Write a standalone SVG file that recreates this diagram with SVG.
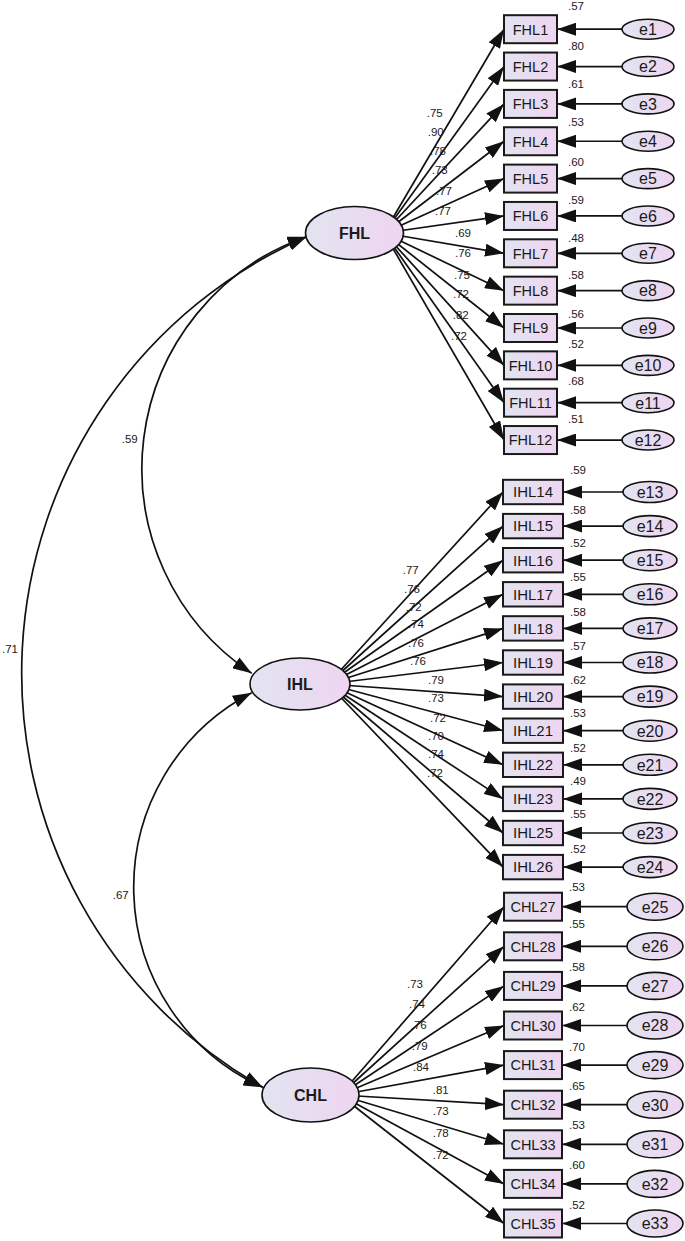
<svg xmlns="http://www.w3.org/2000/svg" width="685" height="1241" viewBox="0 0 685 1241">
<defs>
<linearGradient id="g" x1="0" y1="0" x2="1" y2="0">
<stop offset="0" stop-color="#e2e4f0"/>
<stop offset="1" stop-color="#eed5f1"/>
</linearGradient>
<marker id="ah" markerUnits="userSpaceOnUse" markerWidth="20" markerHeight="13" refX="19" refY="6.5" orient="auto-start-reverse">
<path d="M0,0 L19,6.5 L0,13 z" fill="#111"/>
</marker>
<style>
.c{fill:none;stroke:#111;stroke-width:1.7;marker-end:url(#ah)}
.cv{fill:none;stroke:#111;stroke-width:1.7;marker-start:url(#ah);marker-end:url(#ah)}
.bx{fill:url(#g);stroke:#1a1a1a;stroke-width:2}
.el{fill:url(#g);stroke:#111;stroke-width:1.6}
.t{font-family:"Liberation Sans",Arial,sans-serif;font-size:14.5px;fill:#1a1a1a;text-anchor:middle}
.ti{font-size:15px}
.lt{font-family:"Liberation Sans",Arial,sans-serif;font-size:16px;font-weight:bold;fill:#1a1a1a;text-anchor:middle}
.et{font-family:"Liberation Sans",Arial,sans-serif;font-size:16px;fill:#1a1a1a;text-anchor:middle}
.n{font-family:"Liberation Sans",Arial,sans-serif;font-size:11.5px;fill:#1a1a1a}
</style>
</defs>
<rect width="685" height="1241" fill="#fff"/>
<g id="connectors">
<path class="cv" d="M306.7,236.7 A245.6,245.6 0 0 0 251.7,673.3"/>
<path class="cv" d="M306.7,236.7 A476.5,476.5 0 0 0 262.7,1087.3"/>
<path class="cv" d="M251.7,692.7 A219.5,219.5 0 0 0 262.7,1087.3"/>
<line class="c" x1="384" y1="233" x2="504" y2="29.2"/>
<line class="c" x1="384" y1="233" x2="504" y2="66.55"/>
<line class="c" x1="384" y1="233" x2="504" y2="103.9"/>
<line class="c" x1="384" y1="233" x2="504" y2="141.25"/>
<line class="c" x1="384" y1="233" x2="504" y2="178.6"/>
<line class="c" x1="384" y1="233" x2="504" y2="215.95"/>
<line class="c" x1="384" y1="233" x2="504" y2="253.3"/>
<line class="c" x1="384" y1="233" x2="504" y2="290.65"/>
<line class="c" x1="384" y1="233" x2="504" y2="328"/>
<line class="c" x1="384" y1="233" x2="504" y2="365.35"/>
<line class="c" x1="384" y1="233" x2="504" y2="402.7"/>
<line class="c" x1="384" y1="233" x2="504" y2="440.05"/>
<line class="c" x1="328" y1="684" x2="503" y2="492"/>
<line class="c" x1="328" y1="684" x2="503" y2="526.1"/>
<line class="c" x1="328" y1="684" x2="503" y2="560.2"/>
<line class="c" x1="328" y1="684" x2="503" y2="594.3"/>
<line class="c" x1="328" y1="684" x2="503" y2="628.4"/>
<line class="c" x1="328" y1="684" x2="503" y2="662.5"/>
<line class="c" x1="328" y1="684" x2="503" y2="696.6"/>
<line class="c" x1="328" y1="684" x2="503" y2="730.7"/>
<line class="c" x1="328" y1="684" x2="503" y2="764.8"/>
<line class="c" x1="328" y1="684" x2="503" y2="798.9"/>
<line class="c" x1="328" y1="684" x2="503" y2="833"/>
<line class="c" x1="328" y1="684" x2="503" y2="867.1"/>
<line class="c" x1="340" y1="1095" x2="504" y2="906.7"/>
<line class="c" x1="340" y1="1095" x2="504" y2="946.3"/>
<line class="c" x1="340" y1="1095" x2="504" y2="985.9"/>
<line class="c" x1="340" y1="1095" x2="504" y2="1025.5"/>
<line class="c" x1="340" y1="1095" x2="504" y2="1065.1"/>
<line class="c" x1="340" y1="1095" x2="504" y2="1104.7"/>
<line class="c" x1="340" y1="1095" x2="504" y2="1144.3"/>
<line class="c" x1="340" y1="1095" x2="504" y2="1183.9"/>
<line class="c" x1="340" y1="1095" x2="504" y2="1223.5"/>
<line class="c" x1="622" y1="29.2" x2="557" y2="29.2"/>
<line class="c" x1="622" y1="66.55" x2="557" y2="66.55"/>
<line class="c" x1="622" y1="103.9" x2="557" y2="103.9"/>
<line class="c" x1="622" y1="141.25" x2="557" y2="141.25"/>
<line class="c" x1="622" y1="178.6" x2="557" y2="178.6"/>
<line class="c" x1="622" y1="215.95" x2="557" y2="215.95"/>
<line class="c" x1="622" y1="253.3" x2="557" y2="253.3"/>
<line class="c" x1="622" y1="290.65" x2="557" y2="290.65"/>
<line class="c" x1="622" y1="328" x2="557" y2="328"/>
<line class="c" x1="622" y1="365.35" x2="557" y2="365.35"/>
<line class="c" x1="622" y1="402.7" x2="557" y2="402.7"/>
<line class="c" x1="622" y1="440.05" x2="557" y2="440.05"/>
<line class="c" x1="623" y1="492" x2="563" y2="492"/>
<line class="c" x1="623" y1="526.1" x2="563" y2="526.1"/>
<line class="c" x1="623" y1="560.2" x2="563" y2="560.2"/>
<line class="c" x1="623" y1="594.3" x2="563" y2="594.3"/>
<line class="c" x1="623" y1="628.4" x2="563" y2="628.4"/>
<line class="c" x1="623" y1="662.5" x2="563" y2="662.5"/>
<line class="c" x1="623" y1="696.6" x2="563" y2="696.6"/>
<line class="c" x1="623" y1="730.7" x2="563" y2="730.7"/>
<line class="c" x1="623" y1="764.8" x2="563" y2="764.8"/>
<line class="c" x1="623" y1="798.9" x2="563" y2="798.9"/>
<line class="c" x1="623" y1="833" x2="563" y2="833"/>
<line class="c" x1="623" y1="867.1" x2="563" y2="867.1"/>
<line class="c" x1="627" y1="906.7" x2="562" y2="906.7"/>
<line class="c" x1="627" y1="946.3" x2="562" y2="946.3"/>
<line class="c" x1="627" y1="985.9" x2="562" y2="985.9"/>
<line class="c" x1="627" y1="1025.5" x2="562" y2="1025.5"/>
<line class="c" x1="627" y1="1065.1" x2="562" y2="1065.1"/>
<line class="c" x1="627" y1="1104.7" x2="562" y2="1104.7"/>
<line class="c" x1="627" y1="1144.3" x2="562" y2="1144.3"/>
<line class="c" x1="627" y1="1183.9" x2="562" y2="1183.9"/>
<line class="c" x1="627" y1="1223.5" x2="562" y2="1223.5"/>
</g>
<g id="labels">
<text class="n" x="121.7" y="442.7">.59</text>
<text class="n" x="2" y="653.3">.71</text>
<text class="n" x="112.7" y="899">.67</text>
<text class="n" x="426.7" y="116.7">.75</text>
<text class="n" x="427.7" y="135.7">.90</text>
<text class="n" x="430" y="155">.78</text>
<text class="n" x="431.7" y="174">.73</text>
<text class="n" x="436" y="195">.77</text>
<text class="n" x="435" y="215">.77</text>
<text class="n" x="455" y="236.7">.69</text>
<text class="n" x="455" y="256.7">.76</text>
<text class="n" x="454" y="279">.75</text>
<text class="n" x="453" y="298">.72</text>
<text class="n" x="452.7" y="319">.82</text>
<text class="n" x="451" y="340">.72</text>
<text class="n" x="402.7" y="574">.77</text>
<text class="n" x="404" y="592.7">.76</text>
<text class="n" x="405.7" y="610.7">.72</text>
<text class="n" x="408" y="628">.74</text>
<text class="n" x="408" y="646.7">.76</text>
<text class="n" x="410" y="665">.76</text>
<text class="n" x="428" y="684">.79</text>
<text class="n" x="428" y="702">.73</text>
<text class="n" x="430" y="721.7">.72</text>
<text class="n" x="428" y="740">.70</text>
<text class="n" x="428" y="758">.74</text>
<text class="n" x="427" y="777">.72</text>
<text class="n" x="407" y="987.7">.73</text>
<text class="n" x="409" y="1008">.74</text>
<text class="n" x="410.7" y="1029">.76</text>
<text class="n" x="411.7" y="1050">.79</text>
<text class="n" x="413" y="1071">.84</text>
<text class="n" x="432.7" y="1094">.81</text>
<text class="n" x="432.7" y="1115">.73</text>
<text class="n" x="432.7" y="1136.7">.78</text>
<text class="n" x="432.7" y="1159">.72</text>
<text class="n" x="568" y="10">.57</text>
<text class="n" x="568" y="50">.80</text>
<text class="n" x="568" y="88.3">.61</text>
<text class="n" x="568" y="126">.53</text>
<text class="n" x="568" y="165.7">.60</text>
<text class="n" x="568" y="204">.59</text>
<text class="n" x="568" y="242">.48</text>
<text class="n" x="568" y="279">.58</text>
<text class="n" x="568" y="318">.56</text>
<text class="n" x="568" y="348">.52</text>
<text class="n" x="568" y="385">.68</text>
<text class="n" x="568" y="423">.51</text>
<text class="n" x="570" y="474">.59</text>
<text class="n" x="570" y="514">.58</text>
<text class="n" x="570" y="546.7">.52</text>
<text class="n" x="570" y="580.7">.55</text>
<text class="n" x="570" y="615.7">.58</text>
<text class="n" x="570" y="650">.57</text>
<text class="n" x="570" y="684">.62</text>
<text class="n" x="570" y="717.3">.53</text>
<text class="n" x="570" y="751.7">.52</text>
<text class="n" x="570" y="785">.49</text>
<text class="n" x="570" y="818.3">.55</text>
<text class="n" x="570" y="852.7">.52</text>
<text class="n" x="569" y="890.7">.53</text>
<text class="n" x="569" y="928.3">.55</text>
<text class="n" x="569" y="970.7">.58</text>
<text class="n" x="569" y="1011">.62</text>
<text class="n" x="569" y="1050.7">.70</text>
<text class="n" x="569" y="1090">.65</text>
<text class="n" x="569" y="1129.3">.53</text>
<text class="n" x="569" y="1169.3">.60</text>
<text class="n" x="569" y="1209.3">.52</text>
</g>
<g id="FHL"><ellipse class="el" cx="354.5" cy="233" rx="49" ry="26.5"/><text class="lt" x="354.5" y="239">FHL</text></g>
<g id="IHL"><ellipse class="el" cx="300" cy="684" rx="50" ry="26"/><text class="lt" x="300" y="690">IHL</text></g>
<g id="CHL"><ellipse class="el" cx="310.5" cy="1095" rx="48.5" ry="27"/><text class="lt" x="310.5" y="1101">CHL</text></g>
<g id="FHL1"><rect class="bx" x="504" y="15.2" width="53" height="28"/><text class="t" x="530.5" y="34.5">FHL1</text></g>
<g id="FHL2"><rect class="bx" x="504" y="52.55" width="53" height="28"/><text class="t" x="530.5" y="71.85">FHL2</text></g>
<g id="FHL3"><rect class="bx" x="504" y="89.9" width="53" height="28"/><text class="t" x="530.5" y="109.2">FHL3</text></g>
<g id="FHL4"><rect class="bx" x="504" y="127.25" width="53" height="28"/><text class="t" x="530.5" y="146.55">FHL4</text></g>
<g id="FHL5"><rect class="bx" x="504" y="164.6" width="53" height="28"/><text class="t" x="530.5" y="183.9">FHL5</text></g>
<g id="FHL6"><rect class="bx" x="504" y="201.95" width="53" height="28"/><text class="t" x="530.5" y="221.25">FHL6</text></g>
<g id="FHL7"><rect class="bx" x="504" y="239.3" width="53" height="28"/><text class="t" x="530.5" y="258.6">FHL7</text></g>
<g id="FHL8"><rect class="bx" x="504" y="276.65" width="53" height="28"/><text class="t" x="530.5" y="295.95">FHL8</text></g>
<g id="FHL9"><rect class="bx" x="504" y="314" width="53" height="28"/><text class="t" x="530.5" y="333.3">FHL9</text></g>
<g id="FHL10"><rect class="bx" x="504" y="351.35" width="53" height="28"/><text class="t" x="530.5" y="370.65">FHL10</text></g>
<g id="FHL11"><rect class="bx" x="504" y="388.7" width="53" height="28"/><text class="t" x="530.5" y="408">FHL11</text></g>
<g id="FHL12"><rect class="bx" x="504" y="426.05" width="53" height="28"/><text class="t" x="530.5" y="445.35">FHL12</text></g>
<g id="IHL14"><rect class="bx" x="503" y="479.8" width="60" height="24.4"/><text class="t ti" x="533" y="497.3">IHL14</text></g>
<g id="IHL15"><rect class="bx" x="503" y="513.9" width="60" height="24.4"/><text class="t ti" x="533" y="531.4">IHL15</text></g>
<g id="IHL16"><rect class="bx" x="503" y="548" width="60" height="24.4"/><text class="t ti" x="533" y="565.5">IHL16</text></g>
<g id="IHL17"><rect class="bx" x="503" y="582.1" width="60" height="24.4"/><text class="t ti" x="533" y="599.6">IHL17</text></g>
<g id="IHL18"><rect class="bx" x="503" y="616.2" width="60" height="24.4"/><text class="t ti" x="533" y="633.7">IHL18</text></g>
<g id="IHL19"><rect class="bx" x="503" y="650.3" width="60" height="24.4"/><text class="t ti" x="533" y="667.8">IHL19</text></g>
<g id="IHL20"><rect class="bx" x="503" y="684.4" width="60" height="24.4"/><text class="t ti" x="533" y="701.9">IHL20</text></g>
<g id="IHL21"><rect class="bx" x="503" y="718.5" width="60" height="24.4"/><text class="t ti" x="533" y="736">IHL21</text></g>
<g id="IHL22"><rect class="bx" x="503" y="752.6" width="60" height="24.4"/><text class="t ti" x="533" y="770.1">IHL22</text></g>
<g id="IHL23"><rect class="bx" x="503" y="786.7" width="60" height="24.4"/><text class="t ti" x="533" y="804.2">IHL23</text></g>
<g id="IHL25"><rect class="bx" x="503" y="820.8" width="60" height="24.4"/><text class="t ti" x="533" y="838.3">IHL25</text></g>
<g id="IHL26"><rect class="bx" x="503" y="854.9" width="60" height="24.4"/><text class="t ti" x="533" y="872.4">IHL26</text></g>
<g id="CHL27"><rect class="bx" x="504" y="892.7" width="58" height="28"/><text class="t" x="533" y="912">CHL27</text></g>
<g id="CHL28"><rect class="bx" x="504" y="932.3" width="58" height="28"/><text class="t" x="533" y="951.6">CHL28</text></g>
<g id="CHL29"><rect class="bx" x="504" y="971.9" width="58" height="28"/><text class="t" x="533" y="991.2">CHL29</text></g>
<g id="CHL30"><rect class="bx" x="504" y="1011.5" width="58" height="28"/><text class="t" x="533" y="1030.8">CHL30</text></g>
<g id="CHL31"><rect class="bx" x="504" y="1051.1" width="58" height="28"/><text class="t" x="533" y="1070.4">CHL31</text></g>
<g id="CHL32"><rect class="bx" x="504" y="1090.7" width="58" height="28"/><text class="t" x="533" y="1110">CHL32</text></g>
<g id="CHL33"><rect class="bx" x="504" y="1130.3" width="58" height="28"/><text class="t" x="533" y="1149.6">CHL33</text></g>
<g id="CHL34"><rect class="bx" x="504" y="1169.9" width="58" height="28"/><text class="t" x="533" y="1189.2">CHL34</text></g>
<g id="CHL35"><rect class="bx" x="504" y="1209.5" width="58" height="28"/><text class="t" x="533" y="1228.8">CHL35</text></g>
<g id="e1"><ellipse class="el" cx="648" cy="29.2" rx="26" ry="10"/><text class="et" x="648" y="35">e1</text></g>
<g id="e2"><ellipse class="el" cx="648" cy="66.55" rx="26" ry="10"/><text class="et" x="648" y="72.35">e2</text></g>
<g id="e3"><ellipse class="el" cx="648" cy="103.9" rx="26" ry="10"/><text class="et" x="648" y="109.7">e3</text></g>
<g id="e4"><ellipse class="el" cx="648" cy="141.25" rx="26" ry="10"/><text class="et" x="648" y="147.05">e4</text></g>
<g id="e5"><ellipse class="el" cx="648" cy="178.6" rx="26" ry="10"/><text class="et" x="648" y="184.4">e5</text></g>
<g id="e6"><ellipse class="el" cx="648" cy="215.95" rx="26" ry="10"/><text class="et" x="648" y="221.75">e6</text></g>
<g id="e7"><ellipse class="el" cx="648" cy="253.3" rx="26" ry="10"/><text class="et" x="648" y="259.1">e7</text></g>
<g id="e8"><ellipse class="el" cx="648" cy="290.65" rx="26" ry="10"/><text class="et" x="648" y="296.45">e8</text></g>
<g id="e9"><ellipse class="el" cx="648" cy="328" rx="26" ry="10"/><text class="et" x="648" y="333.8">e9</text></g>
<g id="e10"><ellipse class="el" cx="648" cy="365.35" rx="26" ry="10"/><text class="et" x="648" y="371.15">e10</text></g>
<g id="e11"><ellipse class="el" cx="648" cy="402.7" rx="26" ry="10"/><text class="et" x="648" y="408.5">e11</text></g>
<g id="e12"><ellipse class="el" cx="648" cy="440.05" rx="26" ry="10"/><text class="et" x="648" y="445.85">e12</text></g>
<g id="e13"><ellipse class="el" cx="650" cy="492" rx="27" ry="10.5"/><text class="et" x="650" y="497.8">e13</text></g>
<g id="e14"><ellipse class="el" cx="650" cy="526.1" rx="27" ry="10.5"/><text class="et" x="650" y="531.9">e14</text></g>
<g id="e15"><ellipse class="el" cx="650" cy="560.2" rx="27" ry="10.5"/><text class="et" x="650" y="566">e15</text></g>
<g id="e16"><ellipse class="el" cx="650" cy="594.3" rx="27" ry="10.5"/><text class="et" x="650" y="600.1">e16</text></g>
<g id="e17"><ellipse class="el" cx="650" cy="628.4" rx="27" ry="10.5"/><text class="et" x="650" y="634.2">e17</text></g>
<g id="e18"><ellipse class="el" cx="650" cy="662.5" rx="27" ry="10.5"/><text class="et" x="650" y="668.3">e18</text></g>
<g id="e19"><ellipse class="el" cx="650" cy="696.6" rx="27" ry="10.5"/><text class="et" x="650" y="702.4">e19</text></g>
<g id="e20"><ellipse class="el" cx="650" cy="730.7" rx="27" ry="10.5"/><text class="et" x="650" y="736.5">e20</text></g>
<g id="e21"><ellipse class="el" cx="650" cy="764.8" rx="27" ry="10.5"/><text class="et" x="650" y="770.6">e21</text></g>
<g id="e22"><ellipse class="el" cx="650" cy="798.9" rx="27" ry="10.5"/><text class="et" x="650" y="804.7">e22</text></g>
<g id="e23"><ellipse class="el" cx="650" cy="833" rx="27" ry="10.5"/><text class="et" x="650" y="838.8">e23</text></g>
<g id="e24"><ellipse class="el" cx="650" cy="867.1" rx="27" ry="10.5"/><text class="et" x="650" y="872.9">e24</text></g>
<g id="e25"><ellipse class="el" cx="655" cy="906.7" rx="28" ry="13.5"/><text class="et" x="655" y="912.5">e25</text></g>
<g id="e26"><ellipse class="el" cx="655" cy="946.3" rx="28" ry="13.5"/><text class="et" x="655" y="952.1">e26</text></g>
<g id="e27"><ellipse class="el" cx="655" cy="985.9" rx="28" ry="13.5"/><text class="et" x="655" y="991.7">e27</text></g>
<g id="e28"><ellipse class="el" cx="655" cy="1025.5" rx="28" ry="13.5"/><text class="et" x="655" y="1031.3">e28</text></g>
<g id="e29"><ellipse class="el" cx="655" cy="1065.1" rx="28" ry="13.5"/><text class="et" x="655" y="1070.9">e29</text></g>
<g id="e30"><ellipse class="el" cx="655" cy="1104.7" rx="28" ry="13.5"/><text class="et" x="655" y="1110.5">e30</text></g>
<g id="e31"><ellipse class="el" cx="655" cy="1144.3" rx="28" ry="13.5"/><text class="et" x="655" y="1150.1">e31</text></g>
<g id="e32"><ellipse class="el" cx="655" cy="1183.9" rx="28" ry="13.5"/><text class="et" x="655" y="1189.7">e32</text></g>
<g id="e33"><ellipse class="el" cx="655" cy="1223.5" rx="28" ry="13.5"/><text class="et" x="655" y="1229.3">e33</text></g>
</svg>
